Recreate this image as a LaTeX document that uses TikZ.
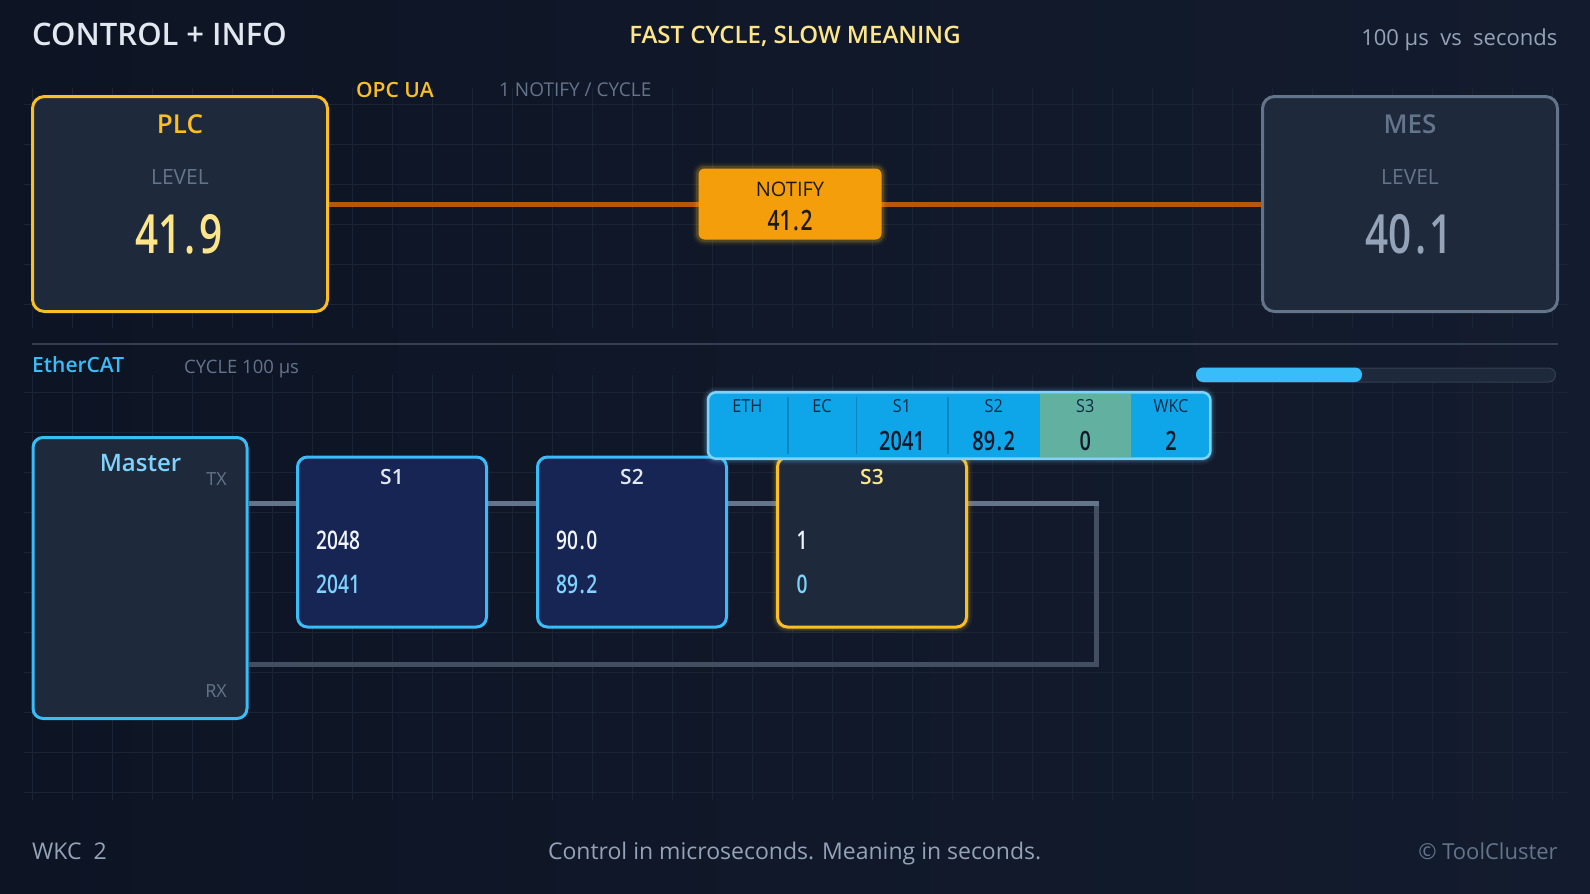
\documentclass[tikz,border=0pt]{standalone}
\usepackage{fontspec}
\setmainfont{Open Sans}
\IfFontExistsTF{Open Sans Semibold}
 {\newfontfamily\sbf{Open Sans Semibold}\newfontfamily\numf{Open Sans Semibold}[FakeStretch=0.75]}
 {\newfontfamily\sbfx{Open Sans}\newcommand\sbf{\sbfx\bfseries}%
  \newfontfamily\numfx{Open Sans}[FakeStretch=0.74]\newcommand\numf{\numfx\bfseries}}
\newcommand\fsz[1]{\fontsize{#1}{#1}\selectfont}
\newcommand\dk{{\setbox0\hbox{0}\hbox to 0.75\wd0{\hss.\hss}}}
\definecolor{bgL}{HTML}{0D1424}
\definecolor{bgR}{HTML}{131C2E}
\definecolor{gridc}{HTML}{1A2435}
\definecolor{titlec}{HTML}{E2E8F0}
\definecolor{yel}{HTML}{FDE68A}
\definecolor{amber}{HTML}{FBBF24}
\definecolor{amberd}{HTML}{F59E0B}
\definecolor{greyc}{HTML}{94A3B8}
\definecolor{dim}{HTML}{64748B}
\definecolor{slatebox}{HTML}{1E293B}
\definecolor{sky}{HTML}{38BDF8}
\definecolor{skyl}{HTML}{7DD3FC}
\definecolor{pktc}{HTML}{0EA5E9}
\definecolor{pktdiv}{HTML}{0B86C0}
\definecolor{tealc}{HTML}{62B0A0}
\definecolor{navyc}{HTML}{172554}
\definecolor{opcc}{HTML}{B8560C}
\definecolor{sepc}{HTML}{343F51}
\definecolor{bustop}{HTML}{64748B}
\definecolor{busret}{HTML}{434E60}
\definecolor{pktlab}{HTML}{0C2B48}
\definecolor{pktval}{HTML}{0F172A}
\definecolor{notetxt}{HTML}{1C1A17}
\definecolor{valw}{HTML}{F1F5F9}
\begin{document}
\begin{tikzpicture}[x=1pt,y=-1pt,
  txt/.style={inner sep=0pt,anchor=base},
  txtl/.style={inner sep=0pt,anchor=base west},
  txtr/.style={inner sep=0pt,anchor=base east},
  gridline/.style={draw=gridc,line width=1pt},
  box/.style={line width=3pt,inner sep=0pt},
  glowy/.style={preaction={draw=#1,line width=12pt,opacity=0.06},
                preaction={draw=#1,line width=8pt,opacity=0.10},
                preaction={draw=#1,line width=5pt,opacity=0.15}},
  sbox/.style={box,draw=sky,fill=navyc,minimum width=189pt,minimum height=170pt,rounded corners=10pt},
  slab/.style={txt,font=\sbf\fsz{21},text=titlec},
  sval/.style={txtl,font=\numf\fsz{25.6},text=valw},
  sval2/.style={txtl,font=\numf\fsz{25.6},text=skyl},
  plab/.style={txt,font=\fsz{18}\addfontfeature{FakeStretch=0.9},text=pktlab},
  pval/.style={txt,font=\numf\fsz{26.6},text=pktval},
  pdiv/.style={draw=pktdiv,line width=1.2pt}
]
\useasboundingbox (0,0) rectangle (1590,894);
\shade[left color=bgL,right color=bgR] (0,0) rectangle (1590,894);

% grids
\foreach \x in {32,72,...,1552} \draw[gridline] (\x,88) -- (\x,328);
\foreach \y in {104,144,...,304} \draw[gridline] (24,\y) -- (1568,\y);
\foreach \x in {32,72,...,1552} \draw[gridline] (\x,375) -- (\x,800);
\foreach \y in {392,432,...,792} \draw[gridline] (24,\y) -- (1568,\y);

% header
\node[txtl,font=\sbf\fsz{31},text=titlec] (title) at (32,45) {CONTROL + INFO};
\node[txt,font=\sbf\fsz{24},text=yel] (subtitle) at (795,43.6) {FAST CYCLE, SLOW MEANING};
\node[txtr,font=\fsz{22},text=greyc] (rate) at (1557.5,45) {100 µs\ \ vs\ \ seconds};

% OPC UA layer
\node[txtl,font=\sbf\fsz{21},text=amber] (opcua) at (356,97) {OPC UA};
\node[txtl,font=\fsz{19},text=dim] (opcnote) at (499,96.3) {1 NOTIFY / CYCLE};

\node[box,draw=amber,fill=slatebox,minimum width=295pt,minimum height=215pt,rounded corners=12pt] (plc) at (180,204) {};
\node[box,draw=dim,fill=slatebox,minimum width=295pt,minimum height=215pt,rounded corners=12pt] (mes) at (1410,204) {};
\draw[draw=opcc,line width=5pt] (plc.east) -- (mes.west);

\node[txt,font=\sbf\fsz{26},text=amber] (plct) at (180,133.3) {PLC};
\node[txt,font=\fsz{21},text=dim] (plclev) at (180,184.5) {LEVEL};
\node[txt,font=\numf\fsz{54},text=yel] (plcval) at (179,253.3) {41\dk9};

\node[txt,font=\sbf\fsz{26},text=dim] (mest) at (1410,133.3) {MES};
\node[txt,font=\fsz{21},text=dim] (meslev) at (1410,184.5) {LEVEL};
\node[txt,font=\numf\fsz{54},text=greyc] (mesval) at (1409,253.3) {40\dk1};

\node[fill=amberd,inner sep=0pt,rounded corners=6pt,minimum width=183pt,minimum height=71pt,glowy=amber] (notify) at (790,204) {};
\node[txt,font=\fsz{20},text=notetxt] (notifyt) at (790,196.1) {NOTIFY};
\node[txt,font=\numf\fsz{28},text=notetxt] (notifyv) at (790,230) {41\dk2};

% separator
\coordinate (sepL) at (31.5,344);
\coordinate (sepR) at (1558,344);
\draw[draw=sepc,line width=2pt] (sepL) -- (sepR);

% EtherCAT layer
\node[txtl,font=\sbf\fsz{21},text=sky] (ecat) at (32,372.5) {EtherCAT};
\node[txtl,font=\fsz{18.5},text=dim] (cyc) at (184,373.1) {CYCLE 100 µs};

\node[draw=sepc,line width=1pt,fill=slatebox,rounded corners=7pt,minimum width=359pt,minimum height=14pt,inner sep=0pt] (track) at (1376,375) {};
\fill[sky,rounded corners=7pt] (track.north west) rectangle (1362,382);

% bus
\node[box,draw=sky,fill=slatebox,minimum width=214pt,minimum height=281pt,rounded corners=10pt] (master) at (140,578) {};
\coordinate (tr) at (1096,503);
\coordinate (br) at (1096,664);
\draw[draw=bustop,line width=5pt] (master.east |- tr) -- (tr);
\draw[draw=busret,line width=5pt] (tr) -- (br) -- (master.east |- br);
\fill[bustop] (1093.5,500.5) rectangle (1098.5,505.5);

\node[txt,font=\sbf\fsz{24},text=skyl] (mastert) at (140.5,471.6) {Master};
\node[txtr,font=\fsz{18},text=dim] (tx) at (227,485.4) {TX};
\node[txtr,font=\fsz{18},text=dim] (rx) at (227,697.4) {RX};

\node[sbox] (s1) at (392,542) {};
\node[slab] (s1t) at (392,484.5) {S1};
\node[sval] (s1a) at (316,549) {2048};
\node[sval2] (s1b) at (316,593) {2041};

\node[sbox] (s2) at (632,542) {};
\node[slab] (s2t) at (632,484.5) {S2};
\node[sval] (s2a) at (556,549) {90\dk0};
\node[sval2] (s2b) at (556,593) {89\dk2};

\node[sbox,draw=amber,fill=slatebox,glowy=amber] (s3) at (872,542) {};
\node[slab,text=yel] (s3t) at (872,484.5) {S3};
\node[sval] (s3a) at (796.5,549) {1};
\node[sval2] (s3b) at (796.5,593) {0};

% frame
\node[fill=pktc,inner sep=0pt,rounded corners=8pt,minimum width=502pt,minimum height=66pt,glowy=skyl] (frame) at (959.2,425.5) {};
\fill[tealc] (1039.5,393.6) rectangle (1131,457.4);
\draw[pdiv] (788,396.5) -- (788,454);
\draw[pdiv] (856.5,396.5) -- (856.5,454);
\draw[pdiv] (948,396.5) -- (948,454);
\draw[draw=skyl,line width=2.5pt,rounded corners=8pt] (frame.north west) rectangle (frame.south east);

\node[plab] (fe) at (747.4,412.4) {ETH};
\node[plab] (fc) at (822,412.4) {EC};
\node[plab] (f1) at (902,412.4) {S1};
\node[plab] (f2) at (993.7,412.4) {S2};
\node[plab] (f3) at (1085.2,412.4) {S3};
\node[plab] (fw) at (1171,412.4) {WKC};
\node[pval] (f1v) at (902,450.5) {2041};
\node[pval] (f2v) at (993.7,450.5) {89\dk2};
\node[pval] (f3v) at (1085.2,450.5) {0};
\node[pval] (fwv) at (1171,450.5) {2};

% footer
\node[txtl,font=\fsz{23},text=greyc] (wkc) at (32,859.7) {WKC\ \ 2};
\node[txt,font=\fsz{23},text=greyc] (foot) at (794.6,859.7) {Control in microseconds. Meaning in seconds.};
\node[txtr,font=\fsz{22},text=dim] (copy) at (1557.8,859.4) {© ToolCluster};
\end{tikzpicture}
\end{document}
